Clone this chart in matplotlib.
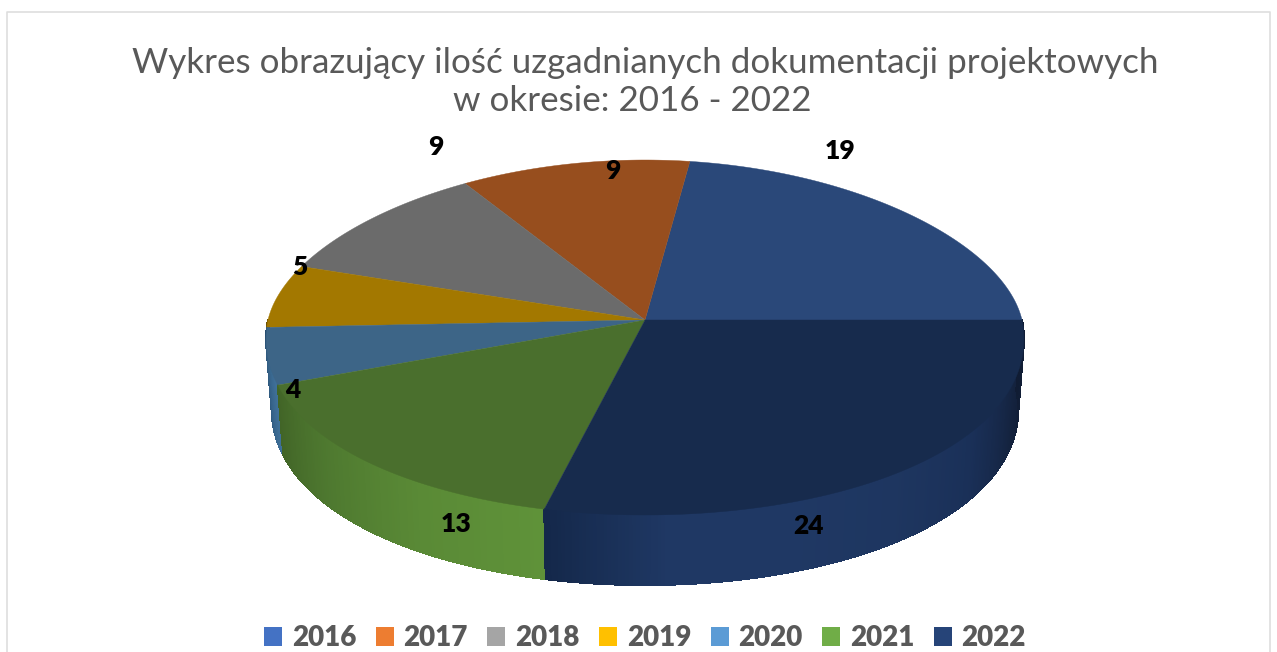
import numpy as np
import matplotlib
matplotlib.use('Agg')
import matplotlib.pyplot as plt
from matplotlib.patches import Patch
from matplotlib.colors import to_rgb

plt.rcParams['font.family'] = ['Lato', 'DejaVu Sans']

years = ['2016', '2017', '2018', '2019', '2020', '2021', '2022']
values = [19, 9, 9, 5, 4, 13, 24]
legend_colors = ['#4472C4', '#ED7D31', '#A5A5A5', '#FFC000', '#5B9BD5', '#70AD47', '#264478']
top_colors = ['#2A4879', '#974E1E', '#6B6B6B', '#A37800', '#3D6587', '#4A6F2D', '#172B4D']
# wall shading, left to right along the visible rim
wall_shades = {
    '2019': ['#6F5200', '#6F5200'],
    '2020': ['#24496B', '#3F7099'],
    '2021': ['#416427', '#4F7A30', '#5A8A36', '#5F9239'],
    '2022': ['#14284A', '#1F3864', '#1F3864', '#1E3660', '#1A3058', '#14233F', '#101C33'],
}
title_lines = ['Wykres obrazujący ilość uzgadnianych dokumentacji projektowych',
               'w okresie: 2016 - 2022']
label_pos = [(840, 151), (613, 171), (436, 147), (300, 267), (293, 390), (456, 524), (808, 526)]

cx, cy = 645, 320
rx, ry_up, ry_down = 377, 160, 195
depth = 70


def project(deg, lower=False):
    t = np.radians(deg)
    s = np.sin(t)
    x = rx * np.cos(t) * (1 - 0.1 * s)
    y = np.where(s > 0, ry_up, ry_down) * s
    if lower:
        return cx + x * 0.985, cy - y + depth
    return cx + x, cy - y


def shade(stops, n):
    rgb = np.array([to_rgb(c) for c in stops])
    pos = np.linspace(0, 1, len(stops))
    f = np.linspace(0, 1, n)
    return np.column_stack([np.interp(f, pos, rgb[:, i]) for i in range(3)])


fig = plt.figure(figsize=(12.77, 6.52), dpi=100)
ax = fig.add_axes([0, 0, 1, 1])
ax.set_xlim(0, 1277)
ax.set_ylim(652, 0)
ax.axis('off')

# chart frame, runs off the bottom of the picture
ax.plot([7, 7, 1270, 1270], [660, 12, 12, 660], color='#DEDEDE', lw=1.2)

edges = np.concatenate([[0], np.cumsum(values)]) * 360 / sum(values)

# side wall, only the part facing the viewer
for i, year in enumerate(years):
    a = max(edges[i], 180)
    b = edges[i + 1]
    if a >= b or year not in wall_shades:
        continue
    ang = np.linspace(a, b, max(int(b - a) * 2, 2) + 1)
    cols = shade(wall_shades[year], len(ang) - 1)
    for j in range(len(ang) - 1):
        x0, y0 = project(ang[j:j + 2])
        x1, y1 = project(ang[j:j + 2], lower=True)
        ax.fill(np.r_[x0, x1[::-1]], np.r_[y0, y1[::-1]], color=cols[j], lw=0.8,
                antialiased=False, zorder=2)

# top face
for i in range(len(values)):
    ang = np.linspace(edges[i], edges[i + 1], 120)
    x, y = project(ang)
    ax.fill(np.r_[cx, x], np.r_[cy, y], color=top_colors[i], lw=0.3, zorder=3)

for v, (px, py) in zip(values, label_pos):
    ax.text(px, py, str(v), fontsize=19, fontweight='heavy', color='black',
            ha='center', va='center', zorder=5)

ax.text(645, 63, title_lines[0], fontsize=25.2, color='#595959', ha='center', va='center')
ax.text(632, 101, title_lines[1], fontsize=25.2, color='#595959', ha='center', va='center')

handles = [Patch(facecolor=c, label=y) for c, y in zip(legend_colors, years)]
ax.legend(handles=handles, ncol=7, loc='center', bbox_to_anchor=(645 / 1277, 1 - 638 / 652),
          frameon=False, labelcolor='#595959', handlelength=0.65, handleheight=0.65,
          handletextpad=0.35, columnspacing=0.7, borderpad=0,
          prop={'weight': 'heavy', 'size': 20})

fig.savefig('out.png', dpi=100)
